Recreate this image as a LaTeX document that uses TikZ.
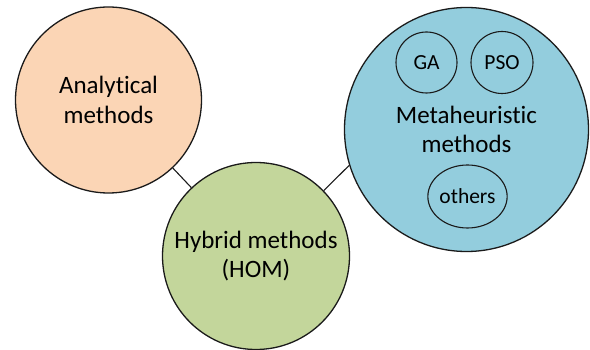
\documentclass[tikz,border=0pt]{standalone}
\usepackage{fontspec}
\setmainfont[Ligatures=NoCommon]{Carlito}
\usetikzlibrary{shapes.geometric}
\definecolor{peach}{HTML}{FBD5B5}
\definecolor{olive}{HTML}{C3D69B}
\definecolor{aqua}{HTML}{93CDDD}
\definecolor{edge}{HTML}{1A1A1A}
\begin{document}
\begin{tikzpicture}[x=1pt,y=-1pt,
  bigcirc/.style={circle,draw=edge,line width=1.3pt,inner sep=0pt,align=center,
    font=\fontsize{25}{29.5}\selectfont},
  subcirc/.style={ellipse,draw=edge,line width=1.1pt,inner sep=0pt,align=center,
    font=\fontsize{21.5}{25}\selectfont},
  link/.style={draw=edge,line width=1.1pt}]
\useasboundingbox (0,0) rectangle (590,350);
\node[bigcirc,fill=peach,minimum size=186pt] (A) at (108.5,100) {Analytical\\methods};
\node[bigcirc,fill=olive,minimum size=187pt] (H) at (256,256) {Hybrid methods\\(HOM)};
\node[bigcirc,fill=aqua,minimum size=244pt] (M) at (466.5,129.5) {Metaheuristic\\methods};
\node[subcirc,minimum width=61pt,minimum height=61pt] (GA) at (426.5,62.5) {GA};
\node[subcirc,minimum width=62pt,minimum height=62pt] (PSO) at (502,62.5) {PSO};
\node[subcirc,minimum width=79pt,minimum height=63pt] (O) at (467.5,196.5) {others};
\draw[link] (A) -- (H);
\draw[link] (H.44) -- (M.197);
\end{tikzpicture}
\end{document}
